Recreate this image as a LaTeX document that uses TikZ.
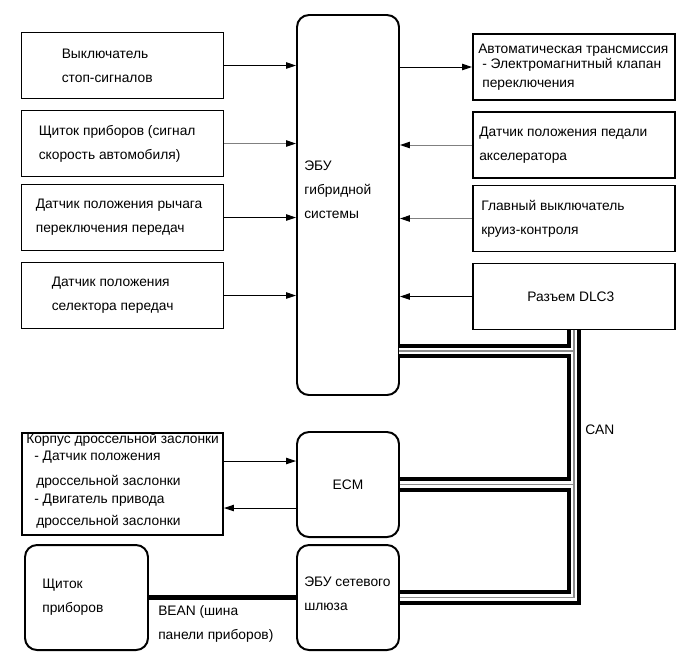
\documentclass[tikz,border=0pt]{standalone}
\usepackage{fontspec}
\setmainfont{Liberation Sans}
\usetikzlibrary{arrows.meta}

\tikzset{
 blockbox/.style={draw,line width=1.4pt,minimum width=5.05cm,minimum height=1.65cm,inner sep=0pt},
 unitbox/.style={draw,line width=1.4pt,rounded corners=0.3cm,minimum width=2.55cm,minimum height=2.625cm,inner sep=0pt,font=\fontsize{9.8}{17}\selectfont},
 blocktext/.style={anchor=west,align=left,inner sep=0pt,font=\fontsize{9.8}{17}\selectfont},
 sig/.style={line width=0.7pt,-{Triangle[length=7pt,width=4.5pt]}},
 dimsig/.style={line width=0.7pt,draw=black!50,-{Triangle[length=7pt,width=4.5pt,color=black]}},
 beanbus/.style={line width=3.6pt},
}

\newcommand{\sidebox}[5][]{%
 \node[blockbox] (#2) at (#3) {};%
 \node[blocktext,#1] (#2t) at ([xshift=#4]#2.west) {#5};%
}

\begin{document}
\begin{tikzpicture}
  \useasboundingbox (0,0) rectangle (17.275,-16.5);
  \sidebox{stop}{3.0625,-1.6375}{1.025cm}{Выключатель\\стоп-сигналов}
  \sidebox{dash}{3.0625,-3.5875}{0.45cm}{Щиток приборов (сигнал\\скорость автомобиля)}
  \sidebox{lever}{3.0625,-5.4375}{0.375cm}{Датчик положения рычага\\переключения передач}
  \sidebox{selector}{3.0625,-7.3875}{0.775cm}{Датчик положения\\селектора передач}
  \sidebox[font=\fontsize{9.8}{10.7}\selectfont]{trans}{14.35,-1.675}{0.15cm}{Автоматическая трансмиссия\\\hspace{0.1cm}- Электромагнитный клапан\\[2.8pt]\hspace{0.1cm}переключения}
  \sidebox{pedal}{14.35,-3.625}{0.175cm}{Датчик положения педали\\акселератора}
  \sidebox{cruise}{14.35,-5.4625}{0.225cm}{Главный выключатель\\круиз-контроля}
  \sidebox{dlc}{14.35,-7.4125}{1.375cm}{Разъем DLC3}

  \node[unitbox,minimum height=9.5cm] (ecu) at (8.7,-5.125) {};
  \node[blocktext] (ecut) at ([xshift=0.2cm,yshift=0.375cm]ecu.west) {ЭБУ\\гибридной\\системы};
  \node[unitbox] (ecm) at (8.7,-12.1125) {ECM};
  \node[unitbox] (gw) at (8.7,-14.9375) {};
  \node[blocktext] (gwt) at ([xshift=0.2cm,yshift=0.1cm]gw.west) {ЭБУ сетевого\\шлюза};
  \node[unitbox,minimum width=3.075cm] (panel) at (2.1625,-14.9375) {};
  \node[blocktext] (panelt) at ([xshift=0.45cm]panel.west) {Щиток\\приборов};

  \node[blockbox,minimum width=5.025cm,minimum height=2.55cm] (thr) at (3.0625,-12.1) {};
  \node[blocktext,font=\fontsize{9.8}{12}\selectfont] (thrt) at ([xshift=0.125cm,yshift=0.075cm]thr.west)
    {Корпус дроссельной заслонки\\\hspace{0.2cm}- Датчик положения\\[5.8pt]\hspace{0.25cm}дроссельной заслонки\\[0.8pt]\hspace{0.2cm}- Двигатель привода\\[3.6pt]\hspace{0.25cm}дроссельной заслонки};

  \draw[sig] (stop.east) -- (stop.east -| ecu.west);
  \draw[dimsig] (dash.east) -- (dash.east -| ecu.west);
  \draw[sig] (lever.east) -- (lever.east -| ecu.west);
  \draw[sig] (selector.east) -- (selector.east -| ecu.west);
  \draw[sig] (trans.west -| ecu.east) -- (trans.west);
  \draw[dimsig] (pedal.west) -- (pedal.west -| ecu.east);
  \draw[dimsig] (cruise.west) -- (cruise.west -| ecu.east);
  \draw[sig] (dlc.west) -- (dlc.west -| ecu.east);

  \coordinate (thrin) at ([yshift=0.575cm]thr.east);
  \coordinate (throut) at ([yshift=-0.6cm]thr.east);
  \draw[sig] (thrin) -- (thrin -| ecm.west);
  \draw[sig] (throut -| ecm.west) -- (throut);

  \coordinate (canecu) at (9.975,-8.775);
  \foreach \w/\clr in {10pt/black,4.4pt/white,1pt/black!45}
    \draw[line width=\w,draw=\clr] (dlc.south) |- (gw.east) (canecu) -- (canecu -| dlc.south) (ecm.east) -- (ecm.east -| dlc.south);
  \node[blocktext] (cant) at (14.625,-10.75) {CAN};

  \draw[beanbus] (panel.east) -- (gw.west);
  \node[blocktext] (beant) at ([xshift=0.225cm,yshift=-0.6625cm]panel.east) {BEAN (шина\\панели приборов)};
\end{tikzpicture}
\end{document}
